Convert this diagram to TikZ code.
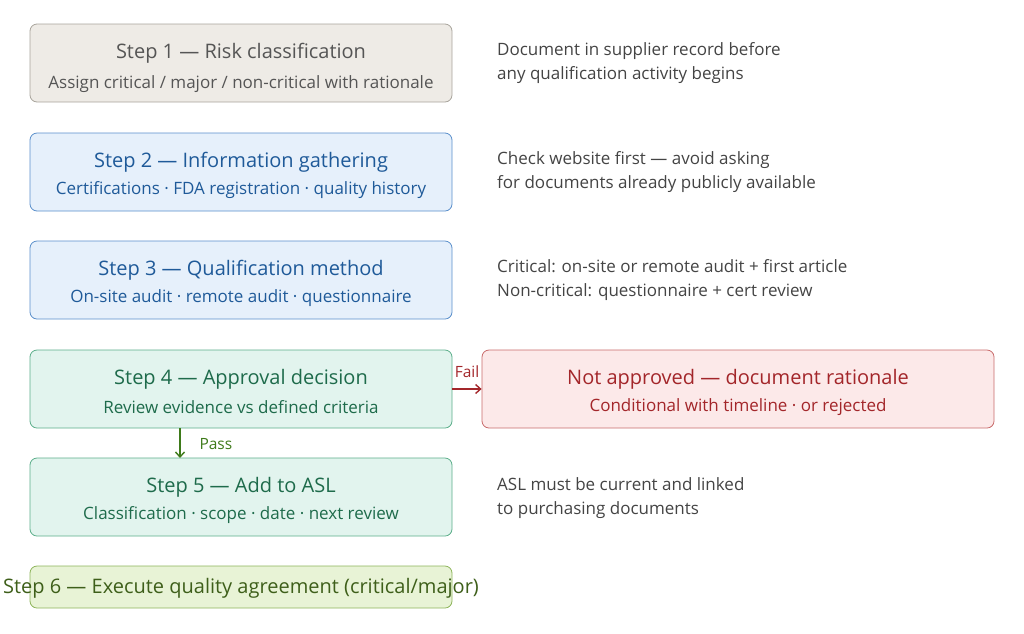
\documentclass[tikz,border=0pt]{standalone}
\usepackage{fontspec}
\setmainfont{Open Sans}
\usetikzlibrary{arrows.meta}
\definecolor{gF}{HTML}{EEEBE6}\definecolor{gD}{HTML}{A8A49C}\definecolor{gT}{HTML}{555555}
\definecolor{bF}{HTML}{E6F0FB}\definecolor{bD}{HTML}{5A8FCB}\definecolor{bT}{HTML}{1F5A99}
\definecolor{tF}{HTML}{E2F4EE}\definecolor{tD}{HTML}{5BAE8A}\definecolor{tT}{HTML}{1E6B4B}
\definecolor{lF}{HTML}{E8F3D6}\definecolor{lD}{HTML}{8DB45A}\definecolor{lT}{HTML}{3E5F1A}
\definecolor{rF}{HTML}{FCE9E9}\definecolor{rD}{HTML}{C86A6A}\definecolor{rT}{HTML}{A3262A}
\definecolor{nT}{HTML}{444444}\definecolor{pA}{HTML}{3E7A1A}
\tikzset{
 box/.style={draw, rounded corners=7pt, line width=0.8pt, minimum width=422pt, minimum height=78pt, inner sep=0pt},
 ttl/.style={font=\fontsize{20}{23}\selectfont},
 sub/.style={font=\fontsize{17}{20}\selectfont},
 note/.style={anchor=north west, align=left, text=nT, font=\fontsize{17}{24}\selectfont, inner sep=0pt},
 arr/.style={-{Straight Barb[length=5pt,width=9pt]}, line width=1.4pt}
}
\begin{document}
\begin{tikzpicture}[x=1pt,y=-1pt]
\useasboundingbox (0,0) rectangle (1024,633);
\node[box,fill=gF,draw=gD] (s1) at (241,63) {};
\node[ttl,text=gT] at (241,53) {Step 1 — Risk classification};
\node[sub,text=gT] at (241,84) {Assign critical / major / non-critical with rationale};
\node[box,fill=bF,draw=bD] (s2) at (241,172) {};
\node[ttl,text=bT] at (241,162) {Step 2 — Information gathering};
\node[sub,text=bT] at (241,190) {Certifications · FDA registration · quality history};
\node[box,fill=bF,draw=bD] (s3) at (241,280) {};
\node[ttl,text=bT] at (241,270) {Step 3 — Qualification method};
\node[sub,text=bT] at (241,298) {On-site audit · remote audit · questionnaire};
\node[box,fill=tF,draw=tD] (s4) at (241,389) {};
\node[ttl,text=tT] at (241,379) {Step 4 — Approval decision};
\node[sub,text=tT] at (241,407) {Review evidence vs defined criteria};
\node[box,fill=tF,draw=tD] (s5) at (241,497) {};
\node[ttl,text=tT] at (241,487) {Step 5 — Add to ASL};
\node[sub,text=tT] at (241,515) {Classification · scope · date · next review};
\node[box,fill=lF,draw=lD,minimum height=42pt] (s6) at (241,587) {};
\node[ttl,text=lT] at (241,588) {Step 6 — Execute quality agreement (critical/major)};
\node[box,fill=rF,draw=rD,minimum width=512pt] (na) at (738,389) {};
\node[ttl,text=rT] at (738,379) {Not approved — document rationale};
\node[sub,text=rT] at (738,407) {Conditional with timeline · or rejected};
\node[note] (n1) at (497,42) {Document in supplier record before\\any qualification activity begins};
\node[note] (n2) at (497,151) {Check website first — avoid asking\\for documents already publicly available};
\node[note] (n3) at (497,259) {Critical: on-site or remote audit + first article\\Non-critical: questionnaire + cert review};
\node[note] (n5) at (497,477) {ASL must be current and linked\\to purchasing documents};
\coordinate (p4) at (180,428); \coordinate (p5) at (180,458);
\draw[arr,draw=pA] (p4) -- (p5);
\node[text=pA,anchor=west,font=\fontsize{15.5}{18}\selectfont] at (196,444) {Pass};
\coordinate (f4) at (452,389);
\draw[arr,draw=rT] (f4) -- (na.west);
\node[text=rT,font=\fontsize{15.5}{18}\selectfont] at (467,372) {Fail};
\end{tikzpicture}
\end{document}
